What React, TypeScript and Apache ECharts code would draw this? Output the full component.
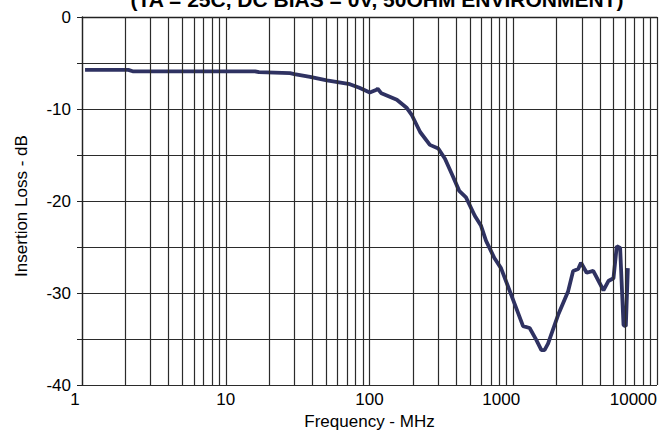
import React, { useEffect, useRef } from "react";
import * as echarts from "echarts";

const titleText = "(TA = 25C, DC BIAS = 0V, 50OHM ENVIRONMENT)";
const xName = "Frequency - MHz";
const yName = "Insertion Loss - dB";

const freq = [1.05, 2.1, 2.25, 16, 17, 28, 30, 38.6, 50.5, 73, 85, 100.5, 112, 114, 121, 155, 182, 196, 225, 263, 301, 335, 380, 421, 469, 540, 597, 646, 739, 822, 968, 1170, 1300, 1446, 1570, 1650, 1746, 2050, 2410, 2610, 2830, 2960, 3240, 3600, 4240, 4590, 4980, 5250, 5540, 5850, 6070, 6270];
const loss = [-5.75, -5.75, -5.9, -5.9, -6.0, -6.1, -6.2, -6.5, -6.9, -7.3, -7.7, -8.2, -7.9, -7.8, -8.3, -9.0, -9.9, -10.6, -12.5, -13.9, -14.3, -15.4, -17.3, -18.9, -19.6, -21.6, -22.7, -24.3, -26.2, -27.3, -30.2, -33.6, -33.8, -35.1, -36.2, -36.2, -35.5, -32.4, -29.8, -27.6, -27.4, -26.7, -27.8, -27.6, -29.7, -28.7, -28.4, -24.9, -25.1, -33.5, -33.6, -27.3];

const minorGrid = [2, 3, 4, 5, 6, 7, 8, 9, 20, 30, 40, 50, 60, 70, 80, 90, 200, 300, 400, 500, 600, 700, 800, 900, 2000, 3000, 4000, 5000, 6000, 7000, 8000, 9000];

const FONT = "'Liberation Sans', Arial, Helvetica, sans-serif";
const GRID_COLOR = "#2b2b2b";

const xLabelStyle = { fontFamily: FONT, fontSize: 17, color: "#000" };

export default function App() {
  const ref = useRef<HTMLDivElement>(null);
  useEffect(() => {
    if (!ref.current) return;
    const chart = echarts.init(ref.current, null, { renderer: "svg" });
    chart.setOption({
      animation: false,
      backgroundColor: "#ffffff",
      textStyle: { fontFamily: FONT },
      title: {
        text: titleText,
        left: 372,
        top: -16,
        textAlign: "center",
        textStyle: { fontFamily: FONT, fontSize: 21, fontWeight: "bold", color: "#000" },
      },
      grid: { left: 82, right: 7, top: 17, bottom: 45, containLabel: false, outerBoundsMode: "none" },
      xAxis: {
        type: "log",
        logBase: 10,
        min: 1,
        max: 10000,
        name: xName,
        nameLocation: "middle",
        nameGap: 24,
        nameTextStyle: { fontFamily: FONT, fontSize: 17, color: "#000" },
        axisLine: { show: true, lineStyle: { color: "#222", width: 1.3 } },
        axisTick: { show: true, length: 3, lineStyle: { color: "#222" } },
        axisLabel: {
          ...xLabelStyle,
          margin: 6,
          alignMaxLabel: "right",
          formatter: (v: number) => {
            const s = String(Math.round(v));
            if (s === "1") return "{a|1}";
            if (s === "1000") return "{b|1000}";
            return s;
          },
          rich: {
            a: { ...xLabelStyle, padding: [0, 14, 0, 0] },
            b: { ...xLabelStyle, padding: [0, 24, 0, 0] },
          },
        },
        splitLine: { show: true, lineStyle: { color: GRID_COLOR, width: 1.2 } },
        minorTick: { show: false },
        minorSplitLine: { show: false },
      },
      yAxis: {
        type: "value",
        min: -40,
        max: 0,
        interval: 5,
        name: yName,
        nameLocation: "middle",
        nameGap: 52,
        nameTextStyle: { fontFamily: FONT, fontSize: 17, color: "#000", padding: [0, 10, 0, 0] },
        axisLine: { show: true, lineStyle: { color: "#222", width: 1.3 } },
        axisTick: { show: true, length: 5, lineStyle: { color: "#222" } },
        axisLabel: {
          fontFamily: FONT,
          fontSize: 17,
          color: "#000",
          margin: 11,
          formatter: (v: number) => (Math.round(v) % 10 === 0 ? String(v) : ""),
        },
        splitLine: { show: true, lineStyle: { color: GRID_COLOR, width: 1.2 } },
      },
      series: [
        {
          type: "line",
          name: "grid",
          z: 1,
          silent: true,
          data: [],
          markLine: {
            silent: true,
            symbol: ["none", "none"],
            label: { show: false },
            lineStyle: { color: GRID_COLOR, width: 1.2, type: "solid" },
            emphasis: { disabled: true },
            data: minorGrid.map((v) => ({ xAxis: v })),
          },
        },
        {
          type: "line",
          name: "loss",
          z: 3,
          data: freq.map((f, i) => [f, loss[i]]),
          showSymbol: false,
          symbol: "none",
          smooth: false,
          lineStyle: { color: "#2f3262", width: 3.8 },
        },
      ],
    });
    return () => chart.dispose();
  }, []);
  return (
    <div
      ref={ref}
      style={{ position: "absolute", left: 0, top: 0, width: 664, height: 430 }}
    />
  );
}
